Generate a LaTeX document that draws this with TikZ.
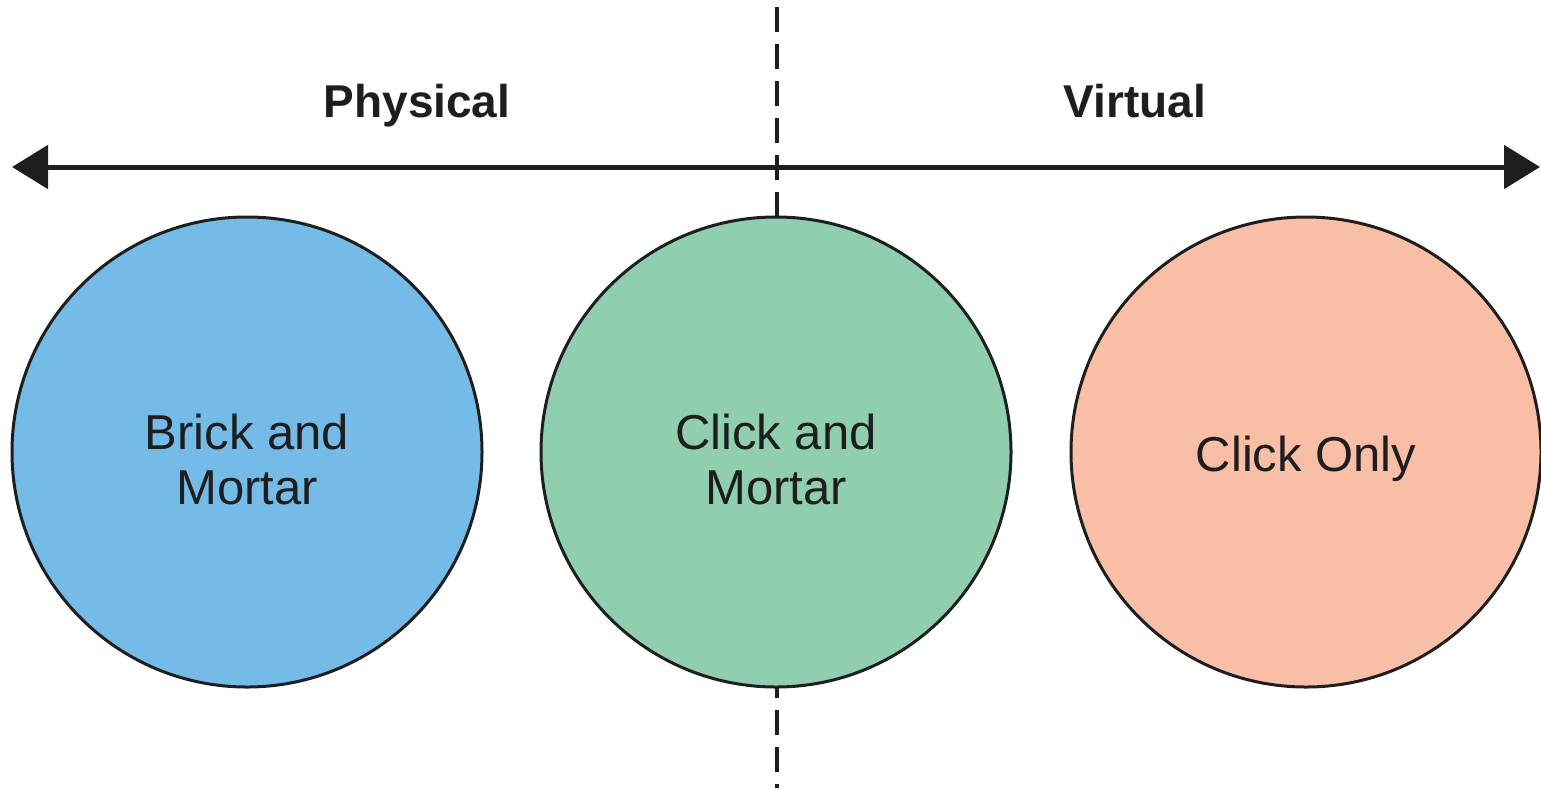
\documentclass[tikz,border=0pt]{standalone}
\usepackage{fontspec}
\setmainfont{Liberation Sans}
\usetikzlibrary{arrows.meta}
\definecolor{cblue}{RGB}{116,187,232}
\definecolor{cgreen}{RGB}{143,206,174}
\definecolor{corange}{RGB}{248,191,166}
\definecolor{ink}{RGB}{30,30,30}
\tikzset{
  bubble/.style={circle, draw=ink, line width=1.5pt, minimum size=470*0.5pt, inner sep=0pt},
  bubbletext/.style={align=center, inner sep=0pt, font=\fontsize{24.5}{27.5}\selectfont, text=ink},
  heading/.style={anchor=base, font=\fontsize{23}{26}\selectfont\bfseries, text=ink},
  axis/.style={line width=2.5pt, draw=ink, {Triangle[length=18pt,width=21.5pt]}-{Triangle[length=18pt,width=21.5pt]}},
  divider/.style={line width=2pt, draw=ink, dash pattern=on 12.5pt off 6pt}
}
\begin{document}
\begin{tikzpicture}[x=0.5pt,y=-0.5pt]
\useasboundingbox (0,0) rectangle (1541,788);
\coordinate (dtop) at (777,7);
\coordinate (dbot) at (777,788);
\draw[divider] (dtop) -- (dbot);
\coordinate (aleft) at (12,167);
\coordinate (aright) at (1540,167);
\draw[axis] (aleft) -- (aright);
\node[heading] (phys) at (417,117) {Physical};
\node[heading] (virt) at (1135,117) {Virtual};
\node[bubble, fill=cblue] (bm) at (247,452) {};
\node[bubble, fill=cgreen] (cm) at (776,452) {};
\node[bubble, fill=corange] (co) at (1306,452) {};
\node[bubbletext] (bmt) at ([yshift=-3.5pt]bm.center) {Brick and\\Mortar};
\node[bubbletext] (cmt) at ([yshift=-3.5pt]cm.center) {Click and\\Mortar};
\node[bubbletext] (cot) at ([yshift=-3.5pt]co.center) {Click Only};
\end{tikzpicture}
\end{document}
